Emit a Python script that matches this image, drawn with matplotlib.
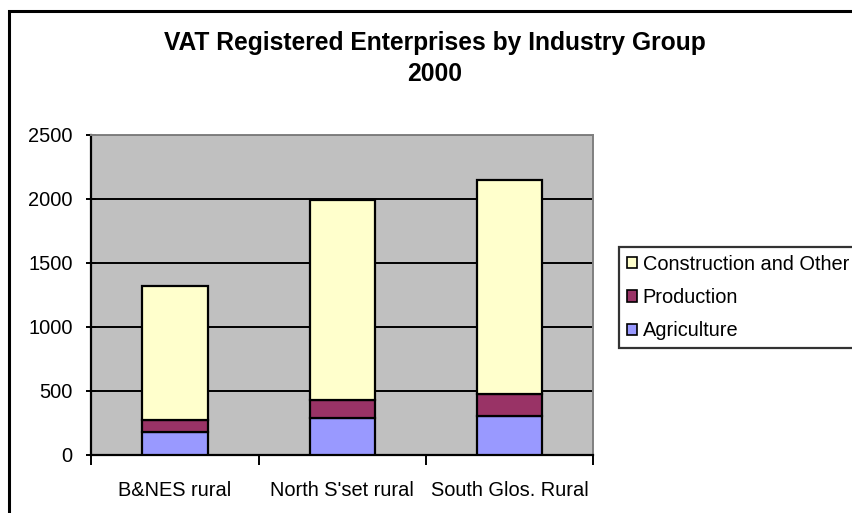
import matplotlib
matplotlib.use("Agg")
import matplotlib.pyplot as plt
import numpy as np
from matplotlib.patches import Rectangle, Patch

plt.rcParams['font.family'] = ['Liberation Sans', 'DejaVu Sans']

categories = ["B&NES rural", "North S'set rural", "South Glos. Rural"]
agriculture = [177, 289, 307]
production = [96, 141, 170]
construction = [1050, 1565, 1674]
series_names = ["Agriculture", "Production", "Construction and Other"]
colors = ["#9999FF", "#993366", "#FFFFCC"]
yticks = [0, 500, 1000, 1500, 2000, 2500]

W, H = 852, 513
fig = plt.figure(figsize=(W / 100, H / 100), dpi=100)
fig.patch.set_facecolor("white")

# outer chart frame (clipped on right/bottom as in reference)
fig.patches.append(Rectangle((8.5 / W, -0.1), 2.0, 1.1 - 11.5 / H, transform=fig.transFigure,
                             fill=False, edgecolor="black", linewidth=2.2, zorder=0))

left, right, top, bottom = 91.4, 593.3, 135, 455
ax = fig.add_axes([left / W, 1 - bottom / H, (right - left) / W, (bottom - top) / H])
ax.set_facecolor("#C0C0C0")

x = np.arange(len(categories))
width = 0.39
data = [agriculture, production, construction]
base = np.zeros(len(categories))
for vals, col, name in zip(data, colors, series_names):
    ax.bar(x, vals, width, bottom=base, color=col, edgecolor="black", linewidth=1.6,
           label=name, zorder=3)
    base = base + np.array(vals)

ax.set_xlim(-0.5, len(categories) - 0.5)
ax.set_ylim(0, 2500)
ax.set_yticks(yticks)
ax.set_yticklabels([str(v) for v in yticks], fontsize=14.4)
ax.yaxis.grid(True, color="black", linewidth=1.4, zorder=1)
ax.set_axisbelow(True)

ax.set_xticks(x)
ax.set_xticklabels(categories, fontsize=14.4)
ax.tick_params(axis="x", length=0, pad=19)
ax.set_xticks(np.arange(-0.5, len(categories)), minor=True)
ax.tick_params(axis="x", which="minor", length=7, width=1.4, direction="out")
ax.tick_params(axis="y", length=7, width=1.4, direction="inout", pad=10)

for s in ["top", "right"]:
    ax.spines[s].set_color("#808080")
    ax.spines[s].set_linewidth(1.4)
for s in ["left", "bottom"]:
    ax.spines[s].set_color("black")
    ax.spines[s].set_linewidth(1.6)

# title
fig.text(435 / W, 1 - 43 / H, "VAT Registered Enterprises by Industry Group",
         ha="center", va="center", fontsize=17.7, fontweight="bold")
fig.text(435 / W, 1 - 74 / H, "2000", ha="center", va="center", fontsize=17.7, fontweight="bold")

# legend (reverse order like reference)
leg_handles = [Patch(facecolor=c, edgecolor="black", linewidth=1.2) for c in colors][::-1]
leg_labels = series_names[::-1]
leg = fig.legend(leg_handles, leg_labels, loc="upper left",
                 bbox_to_anchor=(619 / W, 1 - 247 / H), borderaxespad=0,
                 fontsize=14.4, handlelength=0.5, handleheight=0.5, handletextpad=0.3,
                 labelspacing=0.72, borderpad=0.38, fancybox=False, frameon=True)
leg.get_frame().set_edgecolor("black")
leg.get_frame().set_linewidth(1.6)

fig.savefig("out.png", dpi=100)
